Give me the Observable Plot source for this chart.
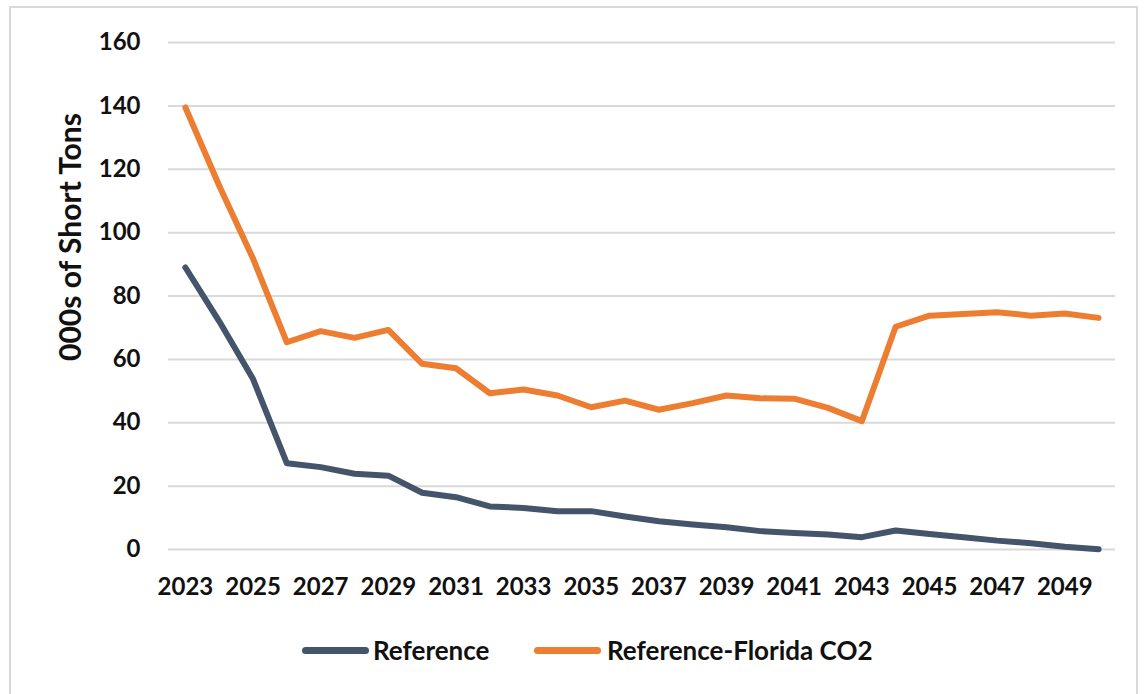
<!DOCTYPE html>
<html>
<head>
<meta charset="utf-8">
<script src="https://cdn.jsdelivr.net/npm/d3@7"></script>
<script src="https://cdn.jsdelivr.net/npm/@observablehq/plot@0.6"></script>
<style>
  html, body { margin: 0; padding: 0; background: #fff; }
  #wrap { position: relative; width: 1147px; height: 694px; overflow: hidden; font-family: Lato, "Open Sans", sans-serif; }
  #frame { position: absolute; left: 9px; top: 6px; width: 1129px; height: 700px; border: 2px solid #d9d9d9; box-sizing: border-box; pointer-events: none; }
  #chart { position: absolute; left: 0; top: 0; }
  #legend { position: absolute; top: 0; left: 0; width: 1147px; height: 694px; font-size: 26px; font-weight: 700; color: #111; pointer-events: none; }
  .sw { position: absolute; height: 7px; border-radius: 4px; top: 647px; }
  .lt { position: absolute; top: 634px; line-height: 32px; white-space: nowrap; }
</style>
</head>
<body>
<div id="wrap">
  <div id="chart"></div>
  <div id="legend"></div>
  <div id="frame"></div>
</div>
<script>
const years = d3.range(2023, 2051);
const reference = [89.0, 72.0, 53.8, 27.2, 26.0, 23.9, 23.3, 17.9, 16.5, 13.6, 13.1, 12.1, 12.1, 10.4, 8.9, 7.9, 7.0, 5.8, 5.2, 4.7, 3.9, 6.0, 4.9, 3.9, 2.8, 2.0, 0.9, 0.1];
const floridaCO2 = [139.5, 114.8, 91.8, 65.4, 68.9, 66.8, 69.3, 58.6, 57.2, 49.3, 50.5, 48.6, 44.9, 47.0, 44.1, 46.2, 48.6, 47.7, 47.6, 44.7, 40.5, 70.3, 73.8, 74.3, 74.9, 73.8, 74.5, 73.1];
const seriesNames = ["Reference", "Reference-Florida CO2"];
const seriesColors = ["#44546a", "#ed7d31"];
const yTicks = [0, 20, 40, 60, 80, 100, 120, 140, 160];
const xTicks = d3.range(2023, 2051, 2);

const data = [];
years.forEach((y, i) => {
  data.push({year: y, value: reference[i], series: seriesNames[0]});
  data.push({year: y, value: floridaCO2[i], series: seriesNames[1]});
});

const chart = Plot.plot({
  width: 1147,
  height: 600,
  marginLeft: 168,
  marginRight: 32,
  marginTop: 42,
  marginBottom: 51,
  style: {fontFamily: "Lato, 'Open Sans', sans-serif", fontSize: "24px", fontWeight: 700, color: "#111", background: "transparent"},
  x: {domain: [2022.5, 2050.5], label: null},
  y: {domain: [0, 160], label: null},
  color: {domain: seriesNames, range: seriesColors},
  marks: [
    Plot.gridY(yTicks, {stroke: "#d9d9d9", strokeOpacity: 1, strokeWidth: 2}),
    Plot.axisX({ticks: xTicks, tickFormat: d => String(d), tickSize: 0, tickPadding: 28, label: null, fontSize: 24, fontWeight: 700}),
    Plot.axisY({ticks: yTicks, tickSize: 0, tickPadding: 28, label: null, fontSize: 24, fontWeight: 700}),
    Plot.line(data, {x: "year", y: "value", z: "series", stroke: "series", strokeWidth: 6, strokeLinejoin: "round", strokeLinecap: "round"}),
    Plot.text(["000s of Short Tons"], {frameAnchor: "left", textAnchor: "middle", dx: -97, dy: -59, rotate: -90, fontSize: 30, fontWeight: 700, fill: "#111"})
  ]
});
document.getElementById("chart").appendChild(chart);

const legend = document.getElementById("legend");
const swatchX = [302, 534];
const textX = [373, 607];
seriesNames.forEach((name, i) => {
  const sw = document.createElement("div");
  sw.className = "sw";
  sw.style.left = swatchX[i] + "px";
  sw.style.width = "67px";
  sw.style.background = seriesColors[i];
  legend.appendChild(sw);
  const t = document.createElement("div");
  t.className = "lt";
  t.style.left = textX[i] + "px";
  t.textContent = name;
  legend.appendChild(t);
});
</script>
</body>
</html>
